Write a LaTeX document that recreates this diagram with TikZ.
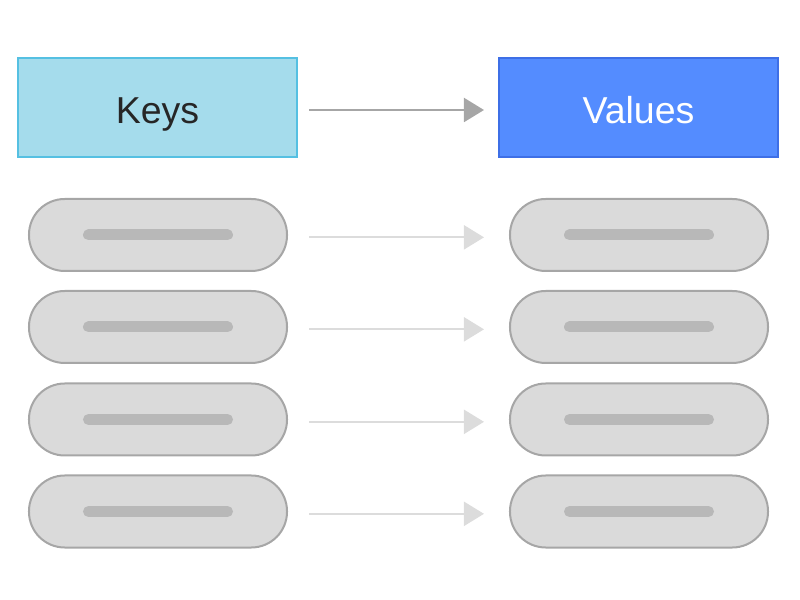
\documentclass[tikz,border=0pt]{standalone}
\usepackage{fontspec}
\setmainfont{Liberation Sans}
\usetikzlibrary{arrows.meta}
\definecolor{keyfill}{HTML}{A5DCEC}
\definecolor{keyline}{HTML}{55C0E2}
\definecolor{valfill}{HTML}{548CFF}
\definecolor{valline}{HTML}{3E6FE6}
\definecolor{pillfill}{HTML}{DADADA}
\definecolor{pillline}{HTML}{A6A6A6}
\definecolor{barcol}{HTML}{B8B8B8}
\definecolor{headarrow}{HTML}{A6A6A6}
\definecolor{rowarrow}{HTML}{DCDCDC}
\tikzset{
  header/.style={draw,line width=0.06cm,minimum width=8.37cm,minimum height=2.97cm,
    inner sep=0pt,text height=0.96cm,text depth=0pt,font=\fontsize{32}{38}\selectfont},
  pill/.style={draw=pillline,fill=pillfill,line width=0.06cm,rounded corners=1.07cm,
    minimum width=7.74cm,minimum height=2.16cm,inner sep=0pt},
  bar/.style={barcol,line width=0.33cm,line cap=round},
  link/.style={line width=0.06cm,-{Triangle[length=0.6cm,width=0.72cm]}}
}
\begin{document}
\begin{tikzpicture}[x=0.03cm,y=-0.03cm]
\useasboundingbox (0,0) rectangle (800,600);
% header boxes
\node[header,draw=keyline,fill=keyfill,text=black!85] (keybox) at (157.5,107.5) {Keys};
\node[header,draw=valline,fill=valfill,text=white] (valbox) at (638.5,107.5) {Values};
\draw[link,headarrow,shorten <=0.33cm,shorten >=0.42cm]
  ([yshift=-0.075cm]keybox.east) -- ([yshift=-0.075cm]valbox.west);
% rows of pairs
\foreach \i/\y in {1/235,2/327,3/419.5,4/511.5}{
  \node[pill] (k\i) at (158,\y) {};
  \node[pill] (v\i) at (639,\y) {};
  \draw[bar] ([xshift=-2.085cm]k\i.center) -- ([xshift=2.085cm]k\i.center);
  \draw[bar] ([xshift=-2.085cm]v\i.center) -- ([xshift=2.085cm]v\i.center);
  \draw[link,rowarrow,shorten <=0.63cm,shorten >=0.75cm]
    ([yshift=-0.07cm]k\i.east) -- ([yshift=-0.07cm]v\i.west);
}
\end{tikzpicture}
\end{document}
